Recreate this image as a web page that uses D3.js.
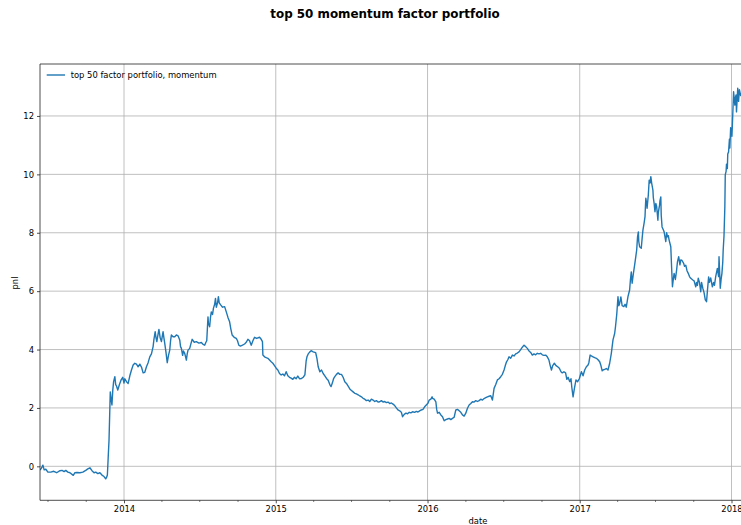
<!DOCTYPE html>
<html>
<head>
<meta charset="utf-8">
<script src="https://cdn.jsdelivr.net/npm/d3@7"></script>
<style>
  html, body { margin: 0; padding: 0; background: #fff; }
  svg { display: block; font-family: "DejaVu Sans", sans-serif; }
</style>
</head>
<body>
<svg id="chart" width="741" height="525"></svg>
<script>
// Observation dates of the portfolio P&L series
const dates = [
  "2013-06-13","2013-06-17","2013-06-20","2013-06-23","2013-06-27","2013-07-02","2013-07-09","2013-07-16","2013-07-23","2013-07-31",
  "2013-08-05","2013-08-10","2013-08-14","2013-08-19","2013-08-24","2013-09-01","2013-09-05","2013-09-10","2013-09-17","2013-09-24",
  "2013-10-01","2013-10-06","2013-10-11","2013-10-16","2013-10-21","2013-10-25","2013-10-30","2013-11-04","2013-11-09","2013-11-14",
  "2013-11-18","2013-11-20","2013-11-22","2013-11-24","2013-11-26","2013-11-28","2013-11-29","2013-12-01","2013-12-03","2013-12-05",
  "2013-12-07","2013-12-10","2013-12-12","2013-12-14","2013-12-17","2013-12-21","2013-12-25","2013-12-29",
  "2014-01-01","2014-01-03","2014-01-07","2014-01-11","2014-01-15","2014-01-19","2014-01-23","2014-01-27","2014-01-31","2014-02-04",
  "2014-02-08","2014-02-12","2014-02-16","2014-02-20","2014-02-24","2014-02-28","2014-03-04","2014-03-08","2014-03-12","2014-03-14",
  "2014-03-17","2014-03-19","2014-03-21","2014-03-23","2014-03-26","2014-03-29","2014-04-01","2014-04-03","2014-04-05","2014-04-07",
  "2014-04-09","2014-04-12","2014-04-15","2014-04-18","2014-04-21","2014-04-23","2014-04-25","2014-04-29","2014-05-03","2014-05-07",
  "2014-05-11","2014-05-15","2014-05-17","2014-05-19","2014-05-22","2014-05-24","2014-05-27","2014-05-31","2014-06-02","2014-06-04",
  "2014-06-08","2014-06-11","2014-06-14","2014-06-19","2014-06-24","2014-06-30","2014-07-06","2014-07-10","2014-07-14","2014-07-17",
  "2014-07-19","2014-07-22","2014-07-23","2014-07-26","2014-07-28","2014-07-30","2014-08-02","2014-08-04","2014-08-07","2014-08-09",
  "2014-08-11","2014-08-14","2014-08-16","2014-08-18","2014-08-22","2014-08-26","2014-08-31","2014-09-04","2014-09-08","2014-09-12",
  "2014-09-15","2014-09-18","2014-09-23","2014-09-28","2014-10-01","2014-10-04","2014-10-08","2014-10-13","2014-10-18","2014-10-22",
  "2014-10-26","2014-10-30","2014-11-03","2014-11-07","2014-11-11","2014-11-16","2014-11-23","2014-11-27","2014-11-30","2014-12-01",
  "2014-12-05","2014-12-09","2014-12-13","2014-12-17","2014-12-21","2014-12-25","2014-12-29",
  "2015-01-02","2015-01-06","2015-01-10","2015-01-14","2015-01-18","2015-01-22","2015-01-26","2015-01-30","2015-02-03","2015-02-07",
  "2015-02-11","2015-02-15","2015-02-19","2015-02-23","2015-02-27","2015-03-04","2015-03-08","2015-03-12","2015-03-15","2015-03-17",
  "2015-03-20","2015-03-24","2015-03-27","2015-04-01","2015-04-05","2015-04-07","2015-04-10","2015-04-13","2015-04-17","2015-04-21",
  "2015-04-25","2015-04-29","2015-05-03","2015-05-07","2015-05-11","2015-05-14","2015-05-17","2015-05-20","2015-05-23","2015-05-27",
  "2015-05-31","2015-06-04","2015-06-08","2015-06-12","2015-06-16","2015-06-20","2015-06-24","2015-06-28","2015-07-02","2015-07-06",
  "2015-07-10","2015-07-14","2015-07-18","2015-07-22","2015-07-26","2015-07-30","2015-08-03","2015-08-07","2015-08-11","2015-08-15",
  "2015-08-19","2015-08-23","2015-08-27","2015-08-31","2015-09-04","2015-09-08","2015-09-12","2015-09-16","2015-09-20","2015-09-24",
  "2015-09-28","2015-10-02","2015-10-06","2015-10-10","2015-10-14","2015-10-18","2015-10-22","2015-10-26","2015-10-30","2015-11-02",
  "2015-11-06","2015-11-10","2015-11-14","2015-11-18","2015-11-22","2015-11-26","2015-12-01","2015-12-05","2015-12-09","2015-12-13",
  "2015-12-17","2015-12-21","2015-12-25","2015-12-29",
  "2016-01-02","2016-01-05","2016-01-09","2016-01-12","2016-01-13","2016-01-17","2016-01-21","2016-01-23","2016-01-25","2016-01-29",
  "2016-02-02","2016-02-06","2016-02-10","2016-02-14","2016-02-18","2016-02-22","2016-02-26","2016-03-01","2016-03-05","2016-03-09",
  "2016-03-13","2016-03-17","2016-03-21","2016-03-25","2016-03-29","2016-04-02","2016-04-06","2016-04-10","2016-04-14","2016-04-18",
  "2016-04-22","2016-04-26","2016-04-30","2016-05-04","2016-05-08","2016-05-12","2016-05-16","2016-05-20","2016-05-24","2016-05-28",
  "2016-06-01","2016-06-05","2016-06-09","2016-06-13","2016-06-17","2016-06-21","2016-06-25","2016-06-29","2016-07-03","2016-07-06",
  "2016-07-09","2016-07-12","2016-07-15","2016-07-19","2016-07-23","2016-07-27","2016-07-31","2016-08-04","2016-08-08","2016-08-12",
  "2016-08-16","2016-08-20","2016-08-24","2016-08-28","2016-09-01","2016-09-05","2016-09-09","2016-09-13","2016-09-17","2016-09-21",
  "2016-09-25","2016-09-29","2016-10-03","2016-10-07","2016-10-11","2016-10-15","2016-10-19","2016-10-22","2016-10-25","2016-10-28",
  "2016-11-01","2016-11-05","2016-11-09","2016-11-13","2016-11-17","2016-11-20","2016-11-24","2016-11-28","2016-12-01","2016-12-04",
  "2016-12-08","2016-12-11","2016-12-13","2016-12-16","2016-12-19","2016-12-23","2016-12-27","2016-12-31",
  "2017-01-05","2017-01-09","2017-01-13","2017-01-17","2017-01-21","2017-01-23","2017-01-26","2017-01-29","2017-02-02","2017-02-06",
  "2017-02-10","2017-02-14","2017-02-18","2017-02-21","2017-02-24","2017-02-26","2017-03-02","2017-03-06","2017-03-10","2017-03-14",
  "2017-03-18","2017-03-22","2017-03-26","2017-03-28","2017-03-31","2017-04-03","2017-04-05","2017-04-07","2017-04-10","2017-04-13",
  "2017-04-17","2017-04-20","2017-04-23","2017-04-27","2017-05-01","2017-05-03","2017-05-05","2017-05-07","2017-05-10","2017-05-13",
  "2017-05-16","2017-05-18","2017-05-20","2017-05-22","2017-05-23","2017-05-25","2017-05-29","2017-05-31","2017-06-02","2017-06-05",
  "2017-06-07","2017-06-08","2017-06-09","2017-06-11","2017-06-12","2017-06-15","2017-06-17","2017-06-19","2017-06-21","2017-06-23",
  "2017-06-26","2017-06-27","2017-06-29","2017-06-30","2017-07-01","2017-07-03","2017-07-05","2017-07-08","2017-07-09","2017-07-12",
  "2017-07-13","2017-07-15","2017-07-16","2017-07-18","2017-07-21","2017-07-23","2017-07-27","2017-07-29","2017-07-31","2017-08-02",
  "2017-08-04","2017-08-08","2017-08-10","2017-08-12","2017-08-14","2017-08-16","2017-08-19","2017-08-22","2017-08-24","2017-08-27",
  "2017-08-30","2017-09-01","2017-09-04","2017-09-08","2017-09-10","2017-09-13","2017-09-16","2017-09-19","2017-09-22","2017-09-25",
  "2017-09-30","2017-10-03","2017-10-07","2017-10-09","2017-10-11","2017-10-13","2017-10-16","2017-10-19","2017-10-21","2017-10-24",
  "2017-10-27","2017-10-30","2017-11-02","2017-11-04","2017-11-07","2017-11-09","2017-11-12","2017-11-16","2017-11-19","2017-11-21",
  "2017-11-24","2017-11-28","2017-12-01","2017-12-02","2017-12-05","2017-12-07","2017-12-09","2017-12-11","2017-12-12","2017-12-14",
  "2017-12-16","2017-12-17","2017-12-19","2017-12-20","2017-12-22","2017-12-23","2017-12-25","2017-12-27","2017-12-28","2017-12-30",
  "2018-01-01","2018-01-02","2018-01-04","2018-01-06","2018-01-09","2018-01-10","2018-01-12","2018-01-13","2018-01-16","2018-01-18",
  "2018-01-20","2018-01-23","2018-01-26"
];

// Cumulative P&L of the top 50 momentum portfolio
const pnl = [
  -0.13,-0.05,0.04,-0.12,-0.10,-0.20,-0.20,-0.17,-0.22,-0.15,
  -0.14,-0.18,-0.14,-0.20,-0.22,-0.31,-0.22,-0.21,-0.22,-0.20,
  -0.14,-0.09,-0.05,-0.15,-0.22,-0.20,-0.25,-0.22,-0.30,-0.35,
  -0.43,-0.38,-0.30,0.30,0.90,2.00,2.55,2.30,2.10,2.60,
  2.90,3.07,2.80,2.75,2.61,2.80,2.96,3.05,
  2.85,3.00,2.90,2.84,3.10,3.30,3.47,3.53,3.50,3.41,
  3.50,3.40,3.20,3.22,3.41,3.55,3.75,3.85,4.10,4.35,
  4.61,4.40,4.27,4.45,4.69,4.40,4.27,4.45,4.61,4.40,
  4.21,3.90,3.55,3.80,3.98,4.30,4.50,4.44,4.44,4.50,
  4.47,4.33,4.10,4.04,3.80,3.95,3.87,3.64,3.85,3.98,
  4.04,4.20,4.35,4.25,4.27,4.22,4.24,4.18,4.15,4.25,
  4.30,5.12,4.90,4.78,5.10,5.29,5.20,5.41,5.55,5.75,
  5.45,5.60,5.81,5.60,5.52,5.45,5.47,5.29,5.10,4.95,
  4.70,4.50,4.42,4.38,4.30,4.15,4.12,4.15,4.19,4.25,
  4.35,4.30,4.15,4.30,4.42,4.38,4.42,4.35,4.27,3.81,
  3.75,3.72,3.70,3.64,3.58,3.53,3.45,
  3.36,3.30,3.18,3.13,3.16,3.10,3.24,3.10,3.05,3.02,
  2.98,3.05,3.00,3.09,3.00,3.01,3.05,3.13,3.60,3.75,
  3.85,3.92,3.96,3.92,3.90,3.89,3.70,3.41,3.24,3.30,
  3.18,3.10,3.01,2.95,2.80,2.73,2.85,3.00,3.07,3.15,
  3.20,3.15,3.15,3.05,2.90,2.84,2.75,2.65,2.60,2.55,
  2.50,2.48,2.45,2.41,2.38,2.33,2.30,2.25,2.27,2.22,
  2.30,2.27,2.22,2.25,2.20,2.21,2.25,2.20,2.22,2.18,
  2.20,2.15,2.17,2.13,2.08,2.00,1.93,1.90,1.85,1.70,
  1.78,1.82,1.80,1.85,1.83,1.87,1.85,1.88,1.86,1.90,
  1.93,1.95,2.04,2.10,
  2.16,2.27,2.30,2.38,2.33,2.30,2.21,1.95,1.82,1.85,
  1.76,1.70,1.56,1.60,1.62,1.64,1.60,1.64,1.68,1.93,
  1.95,1.90,1.85,1.76,1.72,1.82,1.99,2.10,2.15,2.21,
  2.20,2.25,2.22,2.25,2.30,2.27,2.32,2.35,2.38,2.40,
  2.42,2.27,2.67,2.80,2.96,3.00,3.07,3.15,3.30,3.45,
  3.58,3.65,3.75,3.70,3.81,3.78,3.85,3.88,3.92,4.00,
  4.08,4.15,4.10,4.04,3.95,3.90,3.81,3.85,3.82,3.87,
  3.85,3.87,3.82,3.80,3.81,3.75,3.64,3.45,3.30,3.45,
  3.53,3.45,3.41,3.36,3.24,3.20,3.24,3.20,2.98,3.05,
  2.90,3.00,2.70,2.38,2.65,2.96,2.90,3.00,
  3.24,3.10,3.30,3.41,3.47,3.55,3.81,3.78,3.75,3.72,
  3.70,3.65,3.58,3.45,3.27,3.30,3.32,3.35,3.30,3.53,
  3.87,4.33,4.55,4.78,5.20,5.81,5.50,5.58,5.80,5.50,
  5.47,5.55,5.45,5.81,6.04,6.40,6.66,6.27,6.60,6.89,
  7.20,7.41,7.85,8.03,7.70,7.52,7.47,7.80,8.09,8.35,
  8.55,8.90,9.18,9.00,8.84,9.30,9.80,9.70,9.92,9.70,
  9.46,9.20,9.00,8.85,8.72,9.00,8.90,8.43,8.70,8.95,
  9.10,9.23,8.60,8.20,8.10,8.03,7.70,8.00,7.86,7.90,
  7.75,7.52,6.80,6.15,6.40,6.61,6.40,6.72,7.00,7.18,
  6.90,7.07,7.05,6.95,6.85,6.89,6.70,6.61,6.50,6.44,
  6.38,6.35,6.15,6.30,6.20,6.44,6.30,5.98,6.30,6.10,
  5.95,5.70,5.64,6.00,6.49,6.30,6.45,6.15,6.30,6.20,
  6.50,6.78,6.50,7.18,6.10,6.40,6.61,7.00,7.41,7.90,
  8.89,9.98,10.10,10.35,10.20,10.70,10.77,11.20,10.90,11.60,
  11.46,11.30,12.03,12.83,12.37,12.60,12.72,12.14,12.95,12.50,
  12.90,12.70,12.80
];

const yTicks = [0, 2, 4, 6, 8, 10, 12];
const xTickYears = ["2014", "2015", "2016", "2017", "2018"];
const chartTitle = "top 50 momentum factor portfolio";
const seriesName = "top 50 factor portfolio, momentum";

const parse = d3.timeParse("%Y-%m-%d");
const series = dates.map((d, i) => ({ date: parse(d), value: pnl[i] }));

const svg = d3.select("#chart");
const W = 741, H = 525;
const plot = { left: 40, top: 64, bottom: 500.3, right: 916 };

// Time scale anchored on year boundaries, then widened to the axes box
const x = d3.scaleTime()
  .domain([parse("2014-01-01"), parse("2018-01-01")])
  .range([124, 731.5]);
x.domain([x.invert(plot.left), x.invert(plot.right)]).range([plot.left, plot.right]);

const y = d3.scaleLinear().domain([-1.164, 13.78]).range([plot.bottom, plot.top]);

svg.append("rect").attr("width", W).attr("height", H).attr("fill", "#fff");

svg.append("defs").append("clipPath").attr("id", "plotclip")
  .append("rect").attr("x", plot.left).attr("y", plot.top)
  .attr("width", plot.right - plot.left).attr("height", plot.bottom - plot.top);

const grid = svg.append("g").attr("clip-path", "url(#plotclip)");
const yearDates = xTickYears.map(s => parse(s + "-01-01"));

// gridlines
grid.selectAll(".gx").data(yearDates).enter().append("line")
  .attr("x1", d => x(d)).attr("x2", d => x(d))
  .attr("y1", plot.top).attr("y2", plot.bottom)
  .attr("stroke", "#b0b0b0").attr("stroke-width", 0.8);
grid.selectAll(".gy").data(yTicks).enter().append("line")
  .attr("x1", plot.left).attr("x2", plot.right)
  .attr("y1", d => y(d)).attr("y2", d => y(d))
  .attr("stroke", "#b0b0b0").attr("stroke-width", 0.8);

// P&L line
const line = d3.line().x(d => x(d.date)).y(d => y(d.value));
svg.append("g").attr("clip-path", "url(#plotclip)")
  .append("path").datum(series)
  .attr("d", line)
  .attr("fill", "none")
  .attr("stroke", "#1f77b4")
  .attr("stroke-width", 1.4)
  .attr("stroke-linejoin", "round");

// spines
const spine = { stroke: "#222", width: 0.8 };
svg.append("line").attr("x1", plot.left).attr("x2", plot.left)
  .attr("y1", plot.top).attr("y2", plot.bottom)
  .attr("stroke", spine.stroke).attr("stroke-width", spine.width);
svg.append("line").attr("x1", plot.left).attr("x2", plot.right)
  .attr("y1", plot.bottom).attr("y2", plot.bottom)
  .attr("stroke", spine.stroke).attr("stroke-width", spine.width);
svg.append("line").attr("x1", plot.left).attr("x2", plot.right)
  .attr("y1", plot.top).attr("y2", plot.top)
  .attr("stroke", spine.stroke).attr("stroke-width", spine.width);

// y axis
const yAxis = d3.axisLeft(y).tickValues(yTicks).tickSize(3).tickPadding(3)
  .tickFormat(d3.format("d"));
const gy = svg.append("g").attr("transform", `translate(${plot.left},0)`).call(yAxis);
gy.select(".domain").remove();
gy.selectAll("text").attr("font-size", "8.4px").attr("font-family", "DejaVu Sans").attr("fill", "#000");
gy.selectAll("line").attr("stroke", "#222").attr("stroke-width", 0.8);

// x axis: yearly major ticks, quarterly minor ticks
const xAxis = d3.axisBottom(x).tickValues(yearDates).tickSize(3).tickPadding(3)
  .tickFormat(d3.timeFormat("%Y"));
const gx = svg.append("g").attr("transform", `translate(0,${plot.bottom})`).call(xAxis);
gx.select(".domain").remove();
gx.selectAll("text").attr("font-size", "8.4px").attr("font-family", "DejaVu Sans").attr("fill", "#000");
gx.selectAll("line").attr("stroke", "#222").attr("stroke-width", 0.8);

const minorDates = d3.timeMonth.every(3).range(x.domain()[0], x.domain()[1])
  .filter(d => d.getMonth() !== 0);
const xMinor = d3.axisBottom(x).tickValues(minorDates).tickSize(1.7).tickFormat("");
const gxm = svg.append("g").attr("transform", `translate(0,${plot.bottom})`).call(xMinor);
gxm.select(".domain").remove();
gxm.selectAll("line").attr("stroke", "#222").attr("stroke-width", 0.6);

// axis labels
svg.append("text").attr("x", 478).attr("y", 524)
  .attr("text-anchor", "middle").attr("font-size", "8.4px").text("date");
svg.append("text").attr("transform", "translate(17.5,283) rotate(-90)")
  .attr("text-anchor", "middle").attr("font-size", "8.4px").text("pnl");

// title
svg.append("text").attr("x", 385).attr("y", 17.5)
  .attr("text-anchor", "middle").attr("font-size", "11.9px").attr("font-weight", "bold")
  .text(chartTitle);

// legend
const lg = svg.append("g");
lg.append("line").attr("x1", 46.7).attr("x2", 65).attr("y1", 75).attr("y2", 75)
  .attr("stroke", "#1f77b4").attr("stroke-width", 1.4);
lg.append("text").attr("x", 70.7).attr("y", 78).attr("font-size", "8.4px").text(seriesName);
</script>
</body>
</html>
